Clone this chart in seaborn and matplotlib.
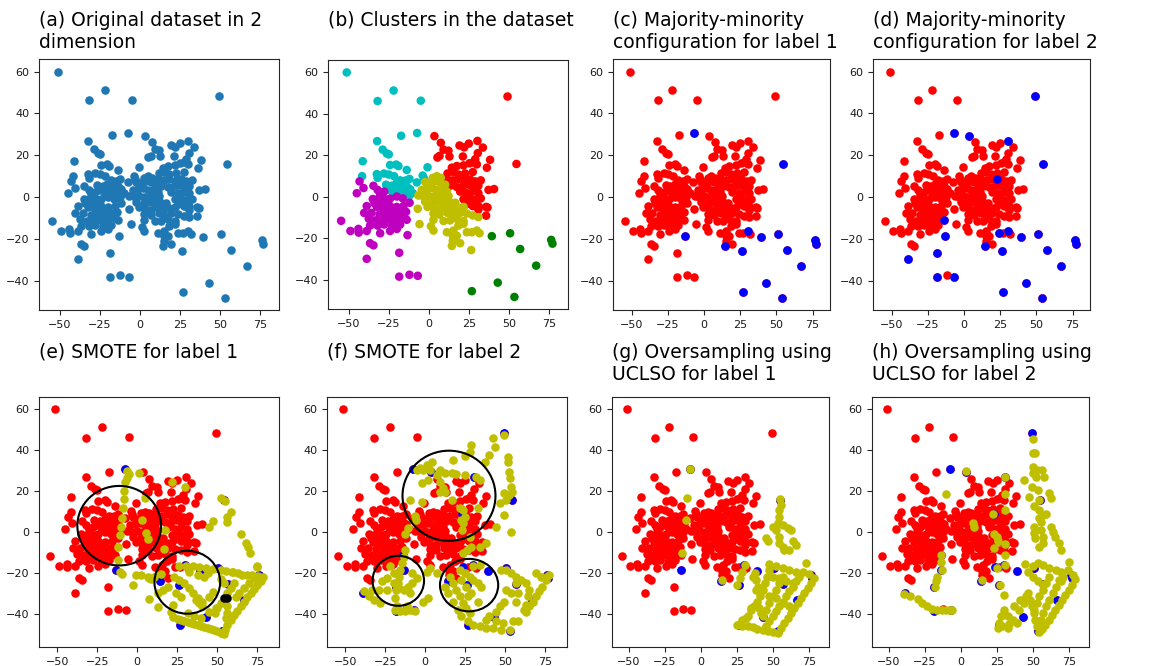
import matplotlib
matplotlib.use("Agg")
import matplotlib.pyplot as plt
import pandas as pd
import seaborn as sns
from matplotlib.patches import Ellipse

# ----------------------------------------------------------
# dataset, grouped by cluster
# ----------------------------------------------------------

cyan_pts = [(-51.3, 60), (-22, 51.3), (-32, 46.2), (-5, 46.4), (-32.3, 26.9), (-17.3, 29.5),
            (-7.3, 30.8), (-28.8, 22.8), (-26.3, 21), (-25, 20.5), (-41.3, 17.2), (-41.7, 10),
            (-24.2, 15.4), (-20.4, 15.6), (-19, 14.9), (-0.8, 14.3), (-32.5, 11), (-32, 9.2),
            (-28, 11.3), (-25, 10.8), (-21.7, 10), (-13.8, 13), (-3.8, 10.3), (-2.9, 8.7),
            (-7.5, 7), (-17.9, 8), (-14.6, 7.9), (-12.1, 8.7), (-26.7, 5.9), (-23.3, 5.4),
            (-20.4, 6.4), (-17.3, 4.8), (-13.8, 5.1), (-11.7, 3.8), (-10, 1.8), (-14.8, 2.6),
            (-17.9, 2.6), (-20.8, 3.4), (-24.6, 3.4), (-12.5, 0.2), (-22, 1)]

magenta_pts = [(-54.8, -11.5), (-49, -16.4), (-44, -15.4), (-43.8, -17.2), (-43.3, 7.5), (-45, 1.8),
               (-40.8, 4.3), (-34.6, 5.4), (-32, 3.4), (-30.4, 1.5), (-27.9, 2.6), (-35, -1),
               (-32, -1.1), (-27.3, -1.1), (-24.2, -0.8), (-20, 0.2), (-16.3, -0.7), (-12, -2.8),
               (-38.8, -4.4), (-32.5, -4.8), (-28.8, -5.1), (-24.2, -4.4), (-20, -4.8), (-15.8, -4.4),
               (-40.4, -7.7), (-35.8, -7.7), (-30.8, -8.4), (-26.3, -7.4), (-22.1, -8), (-18.3, -7.7),
               (-14.2, -7.2), (-37.5, -10.5), (-33.3, -11.3), (-27.9, -10.5), (-24.2, -11), (-19.6, -10.5),
               (-15.8, -10), (-13.8, -11), (-36.7, -13.8), (-32, -13.8), (-27.9, -13.3), (-22.9, -13.8),
               (-17.9, -13.3), (-38.8, -16.4), (-30.4, -17.5), (-24.2, -16.4), (-20, -15.4), (-13.3, -18.4),
               (-36.7, -22.3), (-34.6, -23.3), (-38.8, -29.8), (-18.5, -26.9), (-18.5, -38.4), (-12.1, -37.5),
               (-6.9, -38), (-29, -2.5), (-26, -3), (-23, -6), (-30, -12), (-25, -9), (-21, -12), (-34, -3)]

olive_pts = [(2.5, 9.2), (5, 10), (7.5, 9.2), (-2.3, 7.2), (0.8, 6.7), (4, 7.5), (7.1, 7), (10.2, 5.9),
             (-4.4, 3.4), (-1.3, 3.8), (1.9, 4.3), (5, 3.4), (8.8, 3.8), (11.3, 2.6), (-6.5, 0.7),
             (-3.3, 0.2), (-0.2, 0.5), (2.9, 0.2), (6.7, 1), (9.2, 0.2), (12.3, 0.5), (-2.3, -2.3),
             (2.5, -2.8), (6, -2.3), (9.2, -3.1), (12.9, -2.3), (16.5, -2.8), (-0.8, -4.8), (3.3, -5.6),
             (7.1, -6.1), (10.8, -4.8), (14.4, -5.6), (18.5, -5.1), (21.7, -4.8), (-6.9, -5.7), (2.9, -8),
             (6.7, -8.5), (11.7, -7.7), (15.4, -8.4), (19.6, -7.7), (23.8, -8), (27.5, -8.9), (31, -9.7),
             (2.9, -11), (9.2, -11.6), (13.3, -11.3), (17.5, -10.5), (21.7, -11.6), (-5.8, -13.1),
             (1.3, -14.1), (2.9, -16.2), (11.3, -17), (15.4, -16.2), (18.5, -13.8), (21.7, -13),
             (15, -18.7), (17.5, -18.7), (23.8, -17), (26.9, -17), (30, -16.2), (31.7, -17.5),
             (15, -21.1), (14.4, -23.6), (19.6, -22.3), (26.5, -25.6)]

red_pts = [(3.5, 29.3), (7.5, 26.1), (9.2, 22.8), (12.3, 22.3), (12.9, 19.5), (5.4, 19), (6.7, 19.8),
           (19.2, 24.8), (22.1, 23.9), (25, 25.7), (21.3, 19.5), (30.4, 27), (33.8, 23.8), (30.6, 21.1),
           (38.3, 17.9), (29, 18.2), (27.5, 16.6), (30, 15.7), (49.2, 48.4), (54.8, 15.9), (36.3, 14.1),
           (14.4, 14.1), (17.5, 14.9), (21.7, 15.2), (25.4, 16.2), (11.7, 11.3), (15.4, 12), (18.5, 10.8),
           (22.7, 11.3), (27.5, 12), (11.3, 8.4), (15, 8), (18.5, 8.7), (23, 8.7), (21.7, 7.5), (25.8, 8.4),
           (29, 7.5), (32.5, 8), (13.3, 5.4), (17.5, 4.8), (21.3, 5.1), (24.8, 5.9), (27.9, 4.8), (31, 5.4),
           (19.6, 2.6), (23.8, 1.8), (27.5, 2.6), (31, 1.8), (37.3, 3.4), (40.8, 3.8), (21.7, -1.1),
           (25.8, -0.7), (29, -1.5), (32.5, -0.7), (23.8, -3.4), (27.5, -4.4), (31, -4.4), (35.8, -4.8),
           (36.7, -5.1), (35.8, -9), (31, -6.1)]

green_pts = [(39.4, -18.9), (50.8, -17.5), (57.1, -25.1), (67.1, -33.1), (76.5, -20.7), (77.3, -22.5),
             (43.1, -41.3), (53.5, -48.2), (26.9, -45.4)]

cluster_colors = {"cyan": "c", "magenta": "m", "red": "r", "olive": "y", "green": "g"}

# minority points (outside the green cluster) for each label
minority1_extra = [(-7.3, 30.8), (54.8, 15.9), (-13.3, -18.4), (14.4, -23.6), (30, -16.2), (26.5, -25.6)]
minority2_extra = [(49.2, 48.4), (-7.3, 30.8), (3.5, 29.3), (30.4, 27), (54.8, 15.9), (23, 8.7),
                   (-13.8, -11), (-13.3, -18.4), (-38.8, -29.8), (-18.5, -26.9), (-18.5, -38.4),
                   (-6.9, -38), (14.4, -23.6), (23.8, -17), (30, -16.2), (26.5, -25.6)]

# synthetic points, SMOTE label 1
smote1_pts = [(-6.2, 29.8), (-5.2, 28.2), (-6.3, 26.3), (-7.5, 24.7), (-7.9, 20.3), (-8.5, 16), (-9, 11.7),
              (-9.5, 7), (-10, 2.8), (-10.8, -1.5), (-11.7, -7), (-12.1, -13.5), (-11, -19.6), (-9.6, -20.5),
              (1, 29), (5, 16.6), (2.9, 6), (5.6, -0.5), (6.7, -3.4), (17.1, -8.3), (17.5, 1.1),
              (-0.6, -20.8), (2.5, -21.1), (6.7, -21.6), (-2.7, -25.6), (8.8, -22.9), (7.7, -32.6),
              (13.3, -36.5), (21.9, 24.4), (30, 22.2), (52.5, 16.9), (55.3, 15.4), (56.3, 7.6), (59.2, 9.7),
              (56.7, 4.9), (47.5, 5.5), (45.4, 2.4), (65, -0.8), (68.1, -5.4), (69.6, -7.3), (70.8, -9.9),
              (75, -16.7), (60.4, -19.6),
              (26.5, -16.7), (30.6, -16.4), (34.8, -16.7), (39, -17.1), (43.1, -17.6), (47.8, -18),
              (52.5, -18.4), (56, -18.8), (59.8, -19.2), (63, -20), (66, -20.8), (69, -20.8), (72.3, -20.8),
              (75.4, -17.1), (76, -21.2), (79.2, -22),
              (77.5, -23.6), (75.4, -25.7), (73.3, -27.8), (71.3, -29.7), (69.2, -31.7), (67.1, -33.8),
              (65, -36.2), (62.9, -38.2), (60.8, -40.3), (58.8, -42.7), (56.7, -45.2), (55, -47.6),
              (54.6, -49.5), (73.3, -22.4), (70.2, -24.9), (67.1, -27.3), (64, -29.7), (61.9, -31.4),
              (52.5, -49), (50.4, -48.4), (48.3, -47.8), (46.3, -47.3), (44.2, -46.6), (42.1, -46),
              (40, -45.6), (37.9, -45.2), (35.8, -44.7), (33.8, -44.3), (31.7, -43.9), (29.6, -43.5),
              (27.5, -42.9), (25.4, -42.4), (22.3, -41.4),
              (23.3, -21.6), (26.5, -23.2), (29.6, -24.9), (32.7, -27.3), (34.8, -29.7), (36.9, -33),
              (39, -34.6), (41, -36.2), (24.4, -29.7), (27.5, -31.4), (22.3, -35.4), (21.3, -38.7),
              (37.9, -32.2), (41, -33.8), (45.2, -31.4), (47.3, -29), (42.1, -21.6), (44.2, -20),
              (37.9, -20.8), (32.7, -19.2), (31.7, -39.5), (35.8, -41.1), (40, -41.9), (45.2, -38.7),
              (49.4, -37), (60.8, -24.9), (58.8, -27.3), (56.7, -29.7), (52.5, -34.6), (50.4, -37),
              (48.8, -39.5), (56.7, -36.2), (56.7, -39.5), (55.6, -41.9), (52.5, -22.9), (54.6, -24.9),
              (15, -20.3), (10.8, -21.6), (7.7, -22.4), (19.2, -26.5), (16, -28.1), (12.9, -29.7)]
smote1_black = [(54.2, -32.3), (56.2, -32.3)]

# synthetic points, SMOTE label 2
smote2_pts = [(49.8, 47.4), (42.5, 45.8), (43.6, 41.4), (40.4, 37.7), (37.3, 34.4), (29, 42.5), (28, 39.3),
              (24.9, 37.2), (51.9, 36.8), (51.9, 34.4), (52.9, 29.5), (53.3, 26.3), (53.9, 22.2),
              (54.6, 19.8), (52.9, 18.2), (49.8, 19), (50.8, 15.7), (49.8, 8.4), (46.7, 14.1), (44.6, 2.8),
              (53.9, 0.3), (4.1, 34.4), (1, 32.8), (-3.1, 31.2), (-5.2, 30.3), (-1.1, 30.3), (3.1, 30.3),
              (9.3, 30.3), (12.4, 28.7), (16.6, 28.7), (19.7, 28.4), (24.9, 27.9), (32.1, 27.1), (7.2, 27.9),
              (9.3, 24.7), (11.4, 21.4), (9.3, 19.8), (12.4, 19.8), (2.1, 25.5), (-2.1, 23.9), (17.6, 35.2),
              (34.2, 25.5), (-9.4, 15.7), (-2.1, 14.9), (16.6, 15.7), (21.8, 11.7), (23.8, 10.9),
              (24.9, 7.6), (22.8, 6), (23.8, 4.4), (23.4, 1.1), (28, -2.1), (29, -7), (26.3, -8.6),
              (23.8, -10.2), (33.2, 11.7), (38.4, -5.4), (34.2, -7),
              (15.5, -21.6), (17.6, -24.9), (19.7, -28.1), (21.8, -31.3), (23.8, -34.6), (25.9, -37),
              (28, -39.5), (21.8, -18.4), (24.9, -20), (28, -21.6), (30.1, -23.2), (33.2, -24.9),
              (35.3, -26.5), (22.8, -23.2), (25.9, -26.5), (29, -29.7), (33.2, -33.8), (27, -31.3),
              (30.1, -16.7), (34.2, -15.9), (12.4, -26.5), (14.5, -29.7), (17.6, -33.8), (20.7, -37.8),
              (22.8, -41.1), (27, -43.5), (30.1, -45.1), (34.2, -45.9), (38.4, -46.7), (42.5, -46.7),
              (47.7, -47.6), (53, -47.6), (38.4, -42.7), (40.4, -41.1), (44.6, -43.5), (48.7, -44.3),
              (55, -43.5), (58.1, -43.5), (47.7, -18.4), (50.8, -18.4), (53.9, -20), (57, -21.6),
              (60.1, -23.2), (63.3, -24.9), (65.3, -28.1), (64.3, -31.3), (63.3, -35.4), (62.2, -37.8),
              (69.5, -20), (72.6, -21.6), (75.7, -21.6), (77.8, -20.8), (75.7, -23.2), (73.6, -26.5),
              (71.6, -28.9), (69.5, -31.3), (67.4, -33.8), (64.9, -36.2), (63.3, -38.7), (57, -24.9),
              (58.1, -29.7), (57, -33.8), (49.8, -33.8), (46.7, -36.2), (44.6, -38.7), (50.8, -28.1),
              (53.9, -29.7),
              (-12.5, -8.6), (-13.5, -11.9), (-14.5, -15.1), (-15.6, -18.4), (-16.6, -21.6), (-17.2, -24.9),
              (-18.1, -28.1), (-18.7, -32.2), (-17.7, -36.2), (-21.8, -16.7), (-19.7, -20), (-23.9, -22.4),
              (-27, -24), (-19.7, -24.9), (-16.6, -27.3), (-13.5, -28.1), (-10.4, -26.5), (-9.4, -29.7),
              (-38.4, -28.9), (-35.3, -31.3), (-32.2, -33), (-28, -34.6), (-33.2, -28.1), (-29.1, -28.1),
              (-23.9, -28.1), (-18.7, -37.8), (-15.6, -38.2), (-12.5, -38.2), (-9.4, -37.8), (-6.2, -38.2),
              (-1.1, -33.8), (2.1, -32.2), (-8.3, -24.9), (7.2, -20), (3.1, -17.6), (-11.4, -36.2),
              (-8.3, -20), (-5.2, -22.4), (-12.4, -1), (-10.4, 1.9), (-6.2, 8), (-5.6, 6), (1, -19.2)]

# synthetic points, UCLSO label 1
uclso1_pts = [(-7.4, 30.8), (-9.3, 16.9), (-10.4, 6), (-12.8, -10.2), (30.6, -15.9), (29, -19.2),
              (27.1, -22.4), (25.5, -25.6), (14.6, -23.5), (37.1, -21.6), (38.3, -23.2),
              (55.2, 16.1), (55.7, 13.3), (54.5, 10.9), (54.1, 7.6), (53.6, 4.4), (49.9, 2.8), (52.2, 1.1),
              (56.8, 3.6), (60.3, 1.9), (62.6, 1.1), (45.2, -2.9), (46.4, -4.5), (54.5, -2.1), (54.5, -5.4),
              (56.8, -7), (58, -8.6), (63.8, -4.5), (66.1, -6.2), (61, -8.6), (73.1, -15.1),
              (47.6, -15.4), (52.2, -16.7), (56.8, -17.5), (61.5, -18.3), (66.1, -19.2), (70.8, -19.6),
              (75.4, -20.3), (78.9, -22.4), (76.6, -24.8), (74.2, -27.3), (71.9, -29.7), (69.6, -32.1),
              (67.3, -34.6), (65, -37), (62.6, -39.4), (60.3, -41.9), (58, -44.3), (55.7, -46.8),
              (53.8, -49.2), (49.9, -48.7), (46.4, -48.2), (42.9, -47.6), (39.4, -47.1), (36, -46.4),
              (32.5, -45.9), (29, -45.6), (25.5, -45.1), (29, -42.7), (32.5, -40.7), (34.8, -38.1),
              (37.1, -36.2), (39.4, -33.8), (41.1, -31.3), (42.9, -28.1), (44.8, -24.8), (45.7, -21.6),
              (47.1, -18.3), (68.4, -21.6), (66.1, -24), (63.8, -26.5), (61.5, -28.9), (59.2, -31.3),
              (56.8, -33.8), (54.5, -36.2), (52.2, -38.6), (49.9, -41.1), (47.6, -43.5), (45.2, -45.9),
              (56.8, -21.6), (54.5, -24.8), (52.2, -28.1), (49.9, -31.3), (47.6, -34.6), (45.2, -37.8),
              (42.9, -41.1), (49.9, -21.6), (54.5, -22.4), (59.2, -24), (63.8, -24.8), (47.6, -31.3),
              (52.2, -32.1), (56.8, -34.6), (61.5, -36.2), (34.8, -37), (31.3, -41.9), (40.6, -37),
              (41.8, -39.4), (38.3, -28.1), (40.1, -26.5), (36, -21.6), (37.8, -20)]

# synthetic points, UCLSO label 2
uclso2_pts = [(50.3, 45.5), (50.3, 38.5), (51.3, 38.8), (50.3, 31.7), (52.7, 30.4), (49.9, 28.7),
              (56.4, 30.4), (58, 26.8), (52.2, 26.8), (49.4, 22.2), (44.1, 25.5), (47.6, 17.4), (53.4, 20.6),
              (54.1, 15.7), (51, 12.8), (61.5, 19), (62.6, 16.6), (54.5, 10.9), (57.3, 8.4), (54.1, 6.8),
              (55.7, 5.2), (59.2, 8.9), (51, 2.8), (51, -0.5), (51.7, -2.9), (55.7, 1.1), (56.8, -2.1),
              (56.8, -5.4), (54.5, -7), (62.6, 2.8), (63.8, 0.3), (65.7, -2.1), (68.4, -5.4), (69.6, -8.6),
              (3.5, 29.9), (-10, 18.7), (30.9, 26.8), (30.9, 18.7), (30.9, 10.9), (22.7, 8.9), (8.8, 4.4),
              (9.3, 2.8), (23.2, -0.8), (25.5, -2.1), (26.2, -4.5), (23.2, -7.8), (30.9, -5.7), (30.9, -11),
              (30.9, -15.9), (25.5, -17.5), (14.6, -23.5), (27.1, -25.6), (30.2, -30.8),
              (-13.9, -10.9), (-13.9, -14.3), (-12.8, -18.3), (-16.2, -21.6), (-17.4, -24), (-17.9, -26.5),
              (-39.4, -30), (-34.8, -31.3), (-29.5, -32.6), (-26.7, -34.3), (-23.2, -36.2), (-19.7, -37.5),
              (-16.2, -38.1), (-12.8, -38.1), (-10.4, -37.8), (-7.7, -38.1), (-5.8, -38.1),
              (44.8, -15.4), (46.4, -19.2), (49.9, -16.7), (53.4, -15.1), (56.8, -15.9), (61.5, -17.5),
              (66.1, -18.3), (69.6, -19.6), (74.2, -18.3), (77.7, -20.8), (79.4, -22.7), (74.9, -14.3),
              (77.3, -25.6), (74.9, -28.1), (72.6, -30.5), (70.3, -33), (68, -35.4), (65.7, -37.8),
              (63.3, -40.3), (61, -42.7), (58.7, -45.1), (56.4, -47.2), (54.5, -48.9), (46.4, -29.7),
              (48, -33), (49.4, -36.2), (50.6, -39.4), (51.7, -42.7), (52.9, -45.9), (30.2, -37.8),
              (27.8, -41.1), (26.7, -44.3), (26.2, -46.8), (32.5, -41.1), (36, -42.7), (39.4, -44.3),
              (33.6, -44.9), (29, -45.9), (32.5, -46.8), (37.1, -36.2), (40.6, -37.8), (44.1, -34.6),
              (41.1, -33), (45.2, -31.3), (61.5, -21.6), (59.2, -24.8), (56.8, -28.1), (54.5, -31.3),
              (52.7, -34.6), (51, -37.8), (68.4, -23.2), (66.1, -26.5), (63.8, -29.7), (61.5, -33),
              (59.2, -36.2), (56.8, -39.4), (55.7, -42.7), (70.8, -21.6), (69.6, -24), (49.9, -21.6),
              (53.4, -24), (56.8, -25.6)]

titles = ["(a) Original dataset in 2\ndimension", "(b) Clusters in the dataset",
          "(c) Majority-minority\nconfiguration for label 1", "(d) Majority-minority\nconfiguration for label 2",
          "(e) SMOTE for label 1", "(f) SMOTE for label 2",
          "(g) Oversampling using\nUCLSO for label 1", "(h) Oversampling using\nUCLSO for label 2"]

# circles drawn on the SMOTE panels: (cx, cy, width, height) in data units
circles_e = [(-11.2, 3.2, 52.5, 38.8), (31.5, -24.4, 41.2, 30.7)]
circles_f = [(15, 17.8, 58.3, 44), (-16.8, -23.7, 32.3, 24.4), (27.6, -25.8, 36.5, 25.6)]

# ----------------------------------------------------------
# figure
# ----------------------------------------------------------

sns.set_style("ticks", {"axes.edgecolor": "0.15"})
plt.rcParams["font.family"] = ["DejaVu Sans"]

W, H = 1160, 666
fig = plt.figure(figsize=(W / 100, H / 100), dpi=100)

# axes boxes in pixels: left, top, right, bottom
boxes = [(39, 59, 279, 310), (328, 60, 568, 309), (613, 59, 830, 310), (873, 59, 1090, 310),
         (39, 397, 279, 647), (327, 397, 567, 647), (612, 397, 829, 647), (872, 397, 1089, 647)]
axes = []
for (l, t, r, b), title in zip(boxes, titles):
    ax = fig.add_axes([l / W, 1 - b / H, (r - l) / W, (b - t) / H])
    top = 11 if t < 200 else 343
    fig.text(l / W, 1 - top / H, title, fontsize=13.5, color="black", ha="left", va="top")
    axes.append(ax)

MS = 38


def to_df(points):
    return pd.DataFrame(points, columns=["x", "y"])


def dots(ax, points, color):
    sns.scatterplot(data=to_df(points), x="x", y="y", color=color, s=MS,
                    linewidth=0, ax=ax, legend=False)


all_pts = cyan_pts + magenta_pts + red_pts + olive_pts + green_pts
minority1 = green_pts + minority1_extra
minority2 = green_pts + minority2_extra

# (a) original dataset
dots(axes[0], all_pts, "#1f77b4")

# (b) clusters
frames = []
for name, pts in [("cyan", cyan_pts), ("magenta", magenta_pts), ("red", red_pts),
                  ("olive", olive_pts), ("green", green_pts)]:
    d = to_df(pts)
    d["cluster"] = name
    frames.append(d)
clusters = pd.concat(frames, ignore_index=True)
sns.scatterplot(data=clusters, x="x", y="y", hue="cluster", palette=cluster_colors,
                s=MS, linewidth=0, ax=axes[1], legend=False)

# (c)-(h) majority red, minority blue, synthetic yellow
for i, minority, synth in [(2, minority1, None), (3, minority2, None),
                           (4, minority1, smote1_pts), (5, minority2, smote2_pts),
                           (6, minority1, uclso1_pts), (7, minority2, uclso2_pts)]:
    dots(axes[i], all_pts, "r")
    dots(axes[i], minority, "b")
    if synth is not None:
        dots(axes[i], synth, "y")

dots(axes[4], smote1_black, "k")

for ax, circ in [(axes[4], circles_e), (axes[5], circles_f)]:
    for cx, cy, w, h in circ:
        ax.add_patch(Ellipse((cx, cy), w, h, fill=False, edgecolor="k", linewidth=1.5, zorder=5))

for i, ax in enumerate(axes):
    if i < 4:
        ax.set_xlim(-63, 87)
        ax.set_ylim(-54, 66)
    else:
        ax.set_xlim(-61.5, 89)
        ax.set_ylim(-56, 66)
    ax.set_xticks([-50, -25, 0, 25, 50, 75])
    ax.set_yticks([-40, -20, 0, 20, 40, 60])
    ax.tick_params(labelsize=8, length=3.5, width=0.8, colors="0.15", labelcolor="0.1")
    ax.set_xlabel("")
    ax.set_ylabel("")
    for sp in ax.spines.values():
        sp.set_visible(True)
        sp.set_linewidth(0.8)

fig.savefig("out.png", dpi=100)
